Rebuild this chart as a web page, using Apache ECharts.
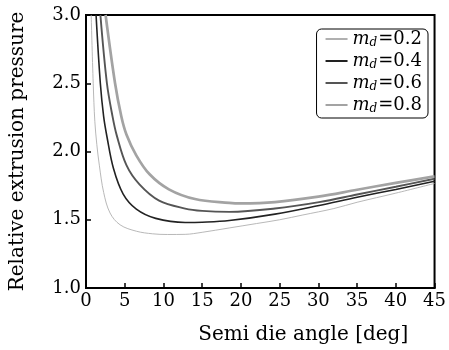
<!DOCTYPE html>
<html>
<head>
<meta charset="utf-8">
<script src="https://cdn.jsdelivr.net/npm/echarts@6/dist/echarts.min.js"></script>
<style>
  html, body { margin: 0; padding: 0; background: #fff; }
  #chart { width: 449px; height: 350px; }
</style>
</head>
<body>
<div id="chart"></div>
<script>
// friction factors shown in the legend
var frictionLabels = ['0.2', '0.4', '0.6', '0.8'];

// [semi die angle (deg), relative extrusion pressure]
var md02 = [[0.67, 3.0], [0.93, 2.5], [1.14, 2.22], [1.4, 2.05], [1.72, 1.90], [2.28, 1.70], [3.1, 1.55],
    [4.4, 1.463], [6.5, 1.416], [8.6, 1.397], [10.5, 1.392], [12.8, 1.393],
    [15, 1.408], [18.5, 1.44], [22, 1.472], [25, 1.50], [28, 1.535], [32, 1.582],
    [35, 1.628], [40, 1.695], [45, 1.766]];
var md04 = [[1.3, 3.0], [1.85, 2.5], [2.28, 2.255], [2.7, 2.11], [3.54, 1.877], [4.8, 1.688], [6.5, 1.578],
    [9, 1.51], [12.8, 1.48], [15, 1.482], [18.5, 1.494], [24.4, 1.541], [30.1, 1.605], [35, 1.665],
    [40, 1.722], [45, 1.782]];
var md06 = [[1.86, 3.0], [2.7, 2.5], [3.43, 2.255], [3.96, 2.12], [5.22, 1.90], [6.9, 1.759], [9.44, 1.64],
    [12.8, 1.582], [15, 1.565], [18.5, 1.558], [24.4, 1.582], [30.1, 1.629], [35, 1.685], [40, 1.742],
    [45, 1.80]];
var md08 = [[2.53, 3.0], [3.75, 2.5], [4.57, 2.255], [5.22, 2.125], [6.49, 1.972], [8.18, 1.835], [10.7, 1.723],
    [14.07, 1.652], [18.5, 1.624], [20, 1.62], [24.4, 1.629], [30, 1.669], [35, 1.72], [40, 1.77],
    [45, 1.818]];

var font = 'DejaVu Serif';
var chart = echarts.init(document.getElementById('chart'));

var lineDefs = [
    { data: md02, color: '#b0b0b0', width: 0.9 },
    { data: md04, color: '#222222', width: 1.6 },
    { data: md06, color: '#555555', width: 1.9 },
    { data: md08, color: '#a3a3a3', width: 2.7 }
];

var series = lineDefs.map(function (d, i) {
    return {
        name: frictionLabels[i],
        type: 'line',
        data: d.data,
        smooth: 0.35,
        symbol: 'none',
        clip: true,
        lineStyle: { color: d.color, width: d.width },
        itemStyle: { color: d.color }
    };
});

var option = {
    animation: false,
    backgroundColor: '#fff',
    grid: {
        left: 82, right: 11, top: 15, bottom: 53,
        show: true, borderColor: '#000', borderWidth: 2
    },
    xAxis: {
        type: 'value',
        min: 0, max: 45, interval: 5,
        name: 'Semi die angle [deg]',
        nameLocation: 'middle',
        nameGap: 37,
        nameTextStyle: { fontFamily: font, fontSize: 20, color: '#000', padding: [0, 0, 0, 86] },
        axisLine: { lineStyle: { color: '#000', width: 2 } },
        axisTick: { inside: true, length: 5, lineStyle: { color: '#000', width: 1.5 } },
        axisLabel: { fontFamily: font, fontSize: 18, color: '#000', margin: 4 },
        splitLine: { show: false }
    },
    yAxis: {
        type: 'value',
        min: 1, max: 3, interval: 0.5,
        name: 'Relative extrusion pressure',
        nameLocation: 'middle',
        nameGap: 58,
        nameTextStyle: { fontFamily: font, fontSize: 20, color: '#000' },
        axisLine: { show: true, lineStyle: { color: '#000', width: 2 } },
        axisTick: { show: true, inside: true, length: 5, lineStyle: { color: '#000', width: 1.5 } },
        axisLabel: {
            fontFamily: font, fontSize: 18, color: '#000', margin: 5,
            formatter: function (v) { return v.toFixed(1); }
        },
        splitLine: { show: false }
    },
    legend: {
        orient: 'vertical',
        right: 21, top: 29,
        itemWidth: 22, itemHeight: 14, itemGap: 3,
        padding: [1, 6, 3, 8],
        borderColor: '#000', borderWidth: 1, borderRadius: 5,
        backgroundColor: '#fff',
        itemStyle: { opacity: 0 },
        formatter: function (name) {
            return '{m|m}{d|d}{v|=' + name + '}';
        },
        textStyle: {
            rich: {
                m: { fontFamily: font, fontStyle: 'italic', fontSize: 18, color: '#000' },
                d: { fontFamily: font, fontStyle: 'italic', fontSize: 12, color: '#000', padding: [8, 1, 0, 0] },
                v: { fontFamily: font, fontSize: 18, color: '#000' }
            }
        },
        data: frictionLabels
    },
    series: series
};

chart.setOption(option);
</script>
</body>
</html>
